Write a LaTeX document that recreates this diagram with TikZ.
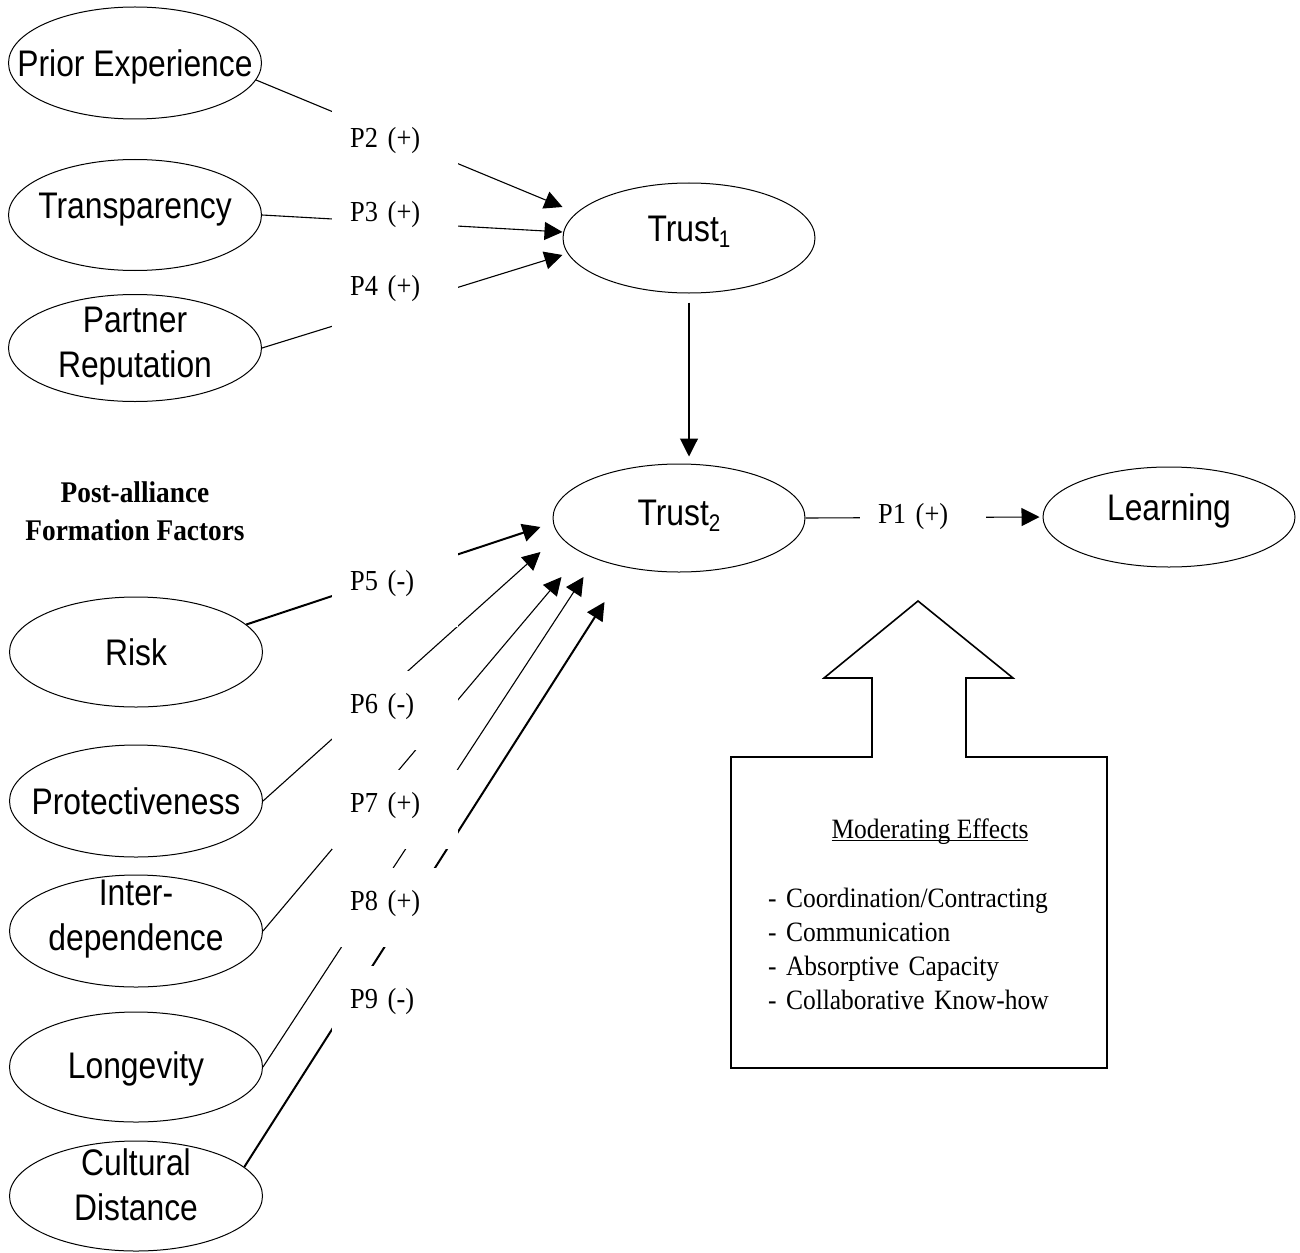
\documentclass[tikz,border=0pt]{standalone}
\usepackage{fontspec}
\usetikzlibrary{arrows.meta,shapes.geometric}
\newfontfamily\sfn[FakeStretch=0.86]{Liberation Sans}
\newfontfamily\rmn[FakeStretch=0.91]{Liberation Serif}
\newcommand\sub[1]{\raisebox{-6pt}{\fontsize{24}{24}\selectfont #1}}
\newcommand\myul[1]{\setbox0\hbox{#1}\rlap{\rule[-3pt]{\wd0}{1.3pt}}\box0}
% text whose last baseline sits #1 above the centre of its node
\newcommand\etext[2]{\raisebox{#1}[0pt][0pt]{\begin{tabular}[b]{@{}c@{}}#2\end{tabular}}}
\begin{document}
\begin{tikzpicture}[x=1pt,y=-1pt,
  ell/.style={draw, ellipse, line width=1pt, inner xsep=-60pt, inner ysep=-20pt,
    minimum width=253pt, align=center, font=\sfn\fontsize{37}{44.5}\selectfont},
  conn/.style={line width=1.1pt, -{Triangle[length=18pt,width=18pt]}},
  connb/.style={conn, line width=2pt},
  plab/.style={fill=white, inner xsep=18pt, inner ysep=0pt, text width=90pt, align=left,
    text height=42pt, text depth=37pt, anchor=base west, font=\rmn\fontsize{29}{32}\selectfont},
  ttl/.style={align=center, inner sep=0pt, font=\rmn\bfseries\fontsize{30}{38}\selectfont},
  modt/.style={inner sep=0pt, font=\rmn\fontsize{28}{34.3}\selectfont}
]
\useasboundingbox (0,0) rectangle (1300,1252);

% ellipses
\node[ell, minimum height=112pt] (pe) at (135,63) {\etext{-14pt}{Prior Experience}};
\node[ell, minimum height=111pt] (tr) at (135,215) {\etext{-3pt}{Transparency}};
\node[ell, minimum height=107pt] (pr) at (135,348) {\etext{-29pt}{Partner\\Reputation}};
\node[ell, minimum height=110pt] (risk) at (136,652) {\etext{-13pt}{Risk}};
\node[ell, minimum height=112pt] (prot) at (136,801) {\etext{-13pt}{Protectiveness}};
\node[ell, minimum height=112pt] (inter) at (136,931) {\etext{-19pt}{Inter-\\dependence}};
\node[ell, minimum height=110pt] (long) at (136,1067) {\etext{-11pt}{Longevity}};
\node[ell, minimum height=110pt] (cult) at (136,1196) {\etext{-24pt}{Cultural\\Distance}};
\node[ell, minimum width=252pt, minimum height=110pt] (t1) at (689,238) {\etext{-3pt}{Trust\sub{1}}};
\node[ell, minimum width=252pt, minimum height=108pt] (t2) at (679,518) {\etext{-7pt}{Trust\sub{2}}};
\node[ell, minimum width=252pt, minimum height=100pt] (learn) at (1169,517) {\etext{-3pt}{Learning}};

\node[ttl] (title) at (135,511) {Post-alliance\\Formation Factors};

% connectors
\draw[conn] (pe.-8) -- ([yshift=31pt]t1.west);
\draw[conn] (tr.east) -- ([yshift=6pt]t1.west);
\draw[conn] (pr.east) -- ([yshift=-17pt]t1.west);
\draw[connb] (risk.14) -- ([xshift=-12pt,yshift=-9pt]t2.west);
\draw[conn] (prot.east) -- ([xshift=-12pt,yshift=-34pt]t2.west);
\draw[conn] (inter.east) -- ([xshift=9pt,yshift=-59pt]t2.west);
\draw[conn] (long.east) -- ([xshift=31pt,yshift=-59pt]t2.west);
\draw[connb] (cult.15) -- ([xshift=52pt,yshift=-84pt]t2.west);
\draw[conn, shorten <=9pt, shorten >=7pt] (t1.south) -- (t1.south |- t2.north);
\draw[conn] (t2.east) -- ([xshift=-3pt]learn.west);

% labels
\node[plab] (p2) at (332,148) {P2 (+)};
\node[plab] (p3) at (332,222) {P3 (+)};
\node[plab] (p4) at (332,295) {P4 (+)};
\node[plab] (p5) at (332,590) {P5 (-)};
\node[plab] (p6) at (332,713) {P6 (-)};
\node[plab] (p7) at (332,812) {P7 (+)};
\node[plab] (p8) at (332,910) {P8 (+)};
\node[plab] (p9) at (332,1008) {P9 (-)};
\node[plab] (p1) at (860,523) {P1 (+)};

% moderating effects arrow box
\draw[line width=1.6pt] (731,1068) -- (731,757) -- (872,757) -- (872,678) -- (824,678)
  -- (918,601) -- (1013,678) -- (966,678) -- (966,757) -- (1107,757) -- (1107,1068) -- cycle;
\node[modt, anchor=base] (modtitle) at (930,838) {\myul{Moderating Effects}};
\node[modt, anchor=base west, text width=330pt, align=left] (modlist) at (768,907)
  {- Coordination/Contracting\\- Communication\\- Absorptive Capacity\\- Collaborative Know-how};
\end{tikzpicture}
\end{document}
